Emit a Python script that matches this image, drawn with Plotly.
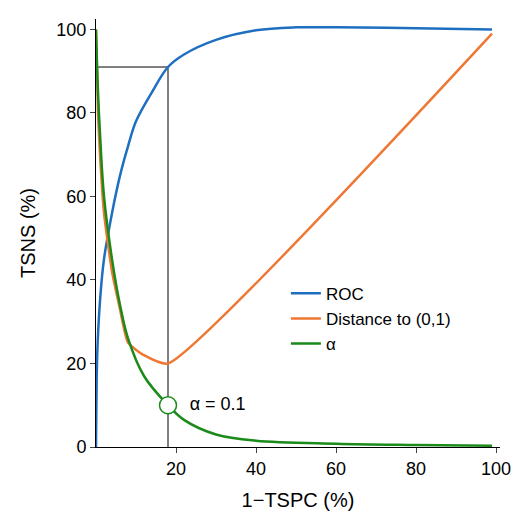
import plotly.graph_objects as go

roc_x = [0, 0.1, 0.3, 1, 2, 4, 6, 8, 10, 14, 18, 22, 30, 40, 50, 60, 80, 99]
roc_y = [0, 10, 22, 35, 45, 56, 65, 72, 78, 85, 91, 94, 97.5, 99.8, 100.5, 100.5, 100.3, 100]
dist_x = [0, 0.5, 1, 2, 4, 6, 8, 12, 18, 99]
dist_y = [100, 80, 70, 56, 42, 33, 25, 22, 20, 99]
alpha_x = [0, 0.5, 1, 2, 4, 6, 8, 12, 18, 22, 30, 40, 60, 80, 99]
alpha_y = [100, 85, 75, 60, 45, 34, 26, 17, 10, 6.5, 3, 1.5, 0.8, 0.5, 0.3]
opt_x, opt_y, opt_alpha = 18, 91, 10

fig = go.Figure()
fig.add_trace(go.Scatter(x=[opt_x, opt_x, 0], y=[0, opt_y, opt_y], mode="lines",
                         line=dict(color="black", width=1), showlegend=False))
fig.add_trace(go.Scatter(x=roc_x, y=roc_y, mode="lines", name="ROC",
                         line=dict(color="#1f6fc0", width=2.5, shape="spline")))
fig.add_trace(go.Scatter(x=dist_x, y=dist_y, mode="lines", name="Distance to (0,1)",
                         line=dict(color="#ee7733", width=2.5, shape="spline", smoothing=0.5)))
fig.add_trace(go.Scatter(x=alpha_x, y=alpha_y, mode="lines", name="α",
                         line=dict(color="#1a8a1a", width=2.5, shape="spline")))
fig.add_trace(go.Scatter(x=[opt_x], y=[opt_alpha], mode="markers+text", text=["  α = 0.1"],
                         textposition="middle right", textfont=dict(size=18, color="black"),
                         marker=dict(size=17, color="white", line=dict(color="#1a8a1a", width=1.5)),
                         showlegend=False))
fig.update_layout(
    width=525, height=520, plot_bgcolor="white", paper_bgcolor="white",
    margin=dict(l=88, r=33, t=11, b=81),
    font=dict(family="Liberation Sans, Arial", size=18, color="black"),
    legend=dict(x=0.47, y=0.4, xanchor="left", yanchor="top", bgcolor="rgba(0,0,0,0)",
                font=dict(size=17)),
    xaxis=dict(range=[0, 101], tickvals=[20, 40, 60, 80, 100], showgrid=False, zeroline=False,
               showline=True, linecolor="black", ticks="outside", ticklen=5,
               title=dict(text="1−TSPC (%)", font=dict(size=20))),
    yaxis=dict(range=[0, 102.5], tickvals=[0, 20, 40, 60, 80, 100], showgrid=False, zeroline=False,
               showline=True, linecolor="black", ticks="outside", ticklen=5,
               title=dict(text="TSNS (%)", font=dict(size=20))),
)
fig.write_html("out.html")
